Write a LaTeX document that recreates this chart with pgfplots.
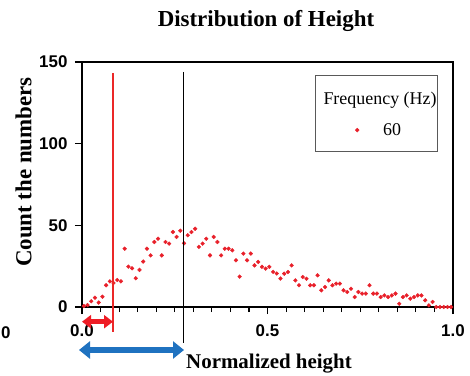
\documentclass[border=0pt]{standalone}
\usepackage{pgfplots}
\pgfplotsset{compat=1.18}
\usepackage{fontspec}
\setmainfont{Liberation Serif}
\newfontfamily\sansf{Liberation Sans}
\usetikzlibrary{arrows.meta}
\definecolor{dotred}{RGB}{232,32,42}
\definecolor{arrred}{RGB}{238,28,37}
\definecolor{linered}{RGB}{235,40,40}
\definecolor{arrblue}{RGB}{31,114,192}
\begin{document}
\begin{tikzpicture}
\path[use as bounding box] (-82bp,-69bp) rectangle (388bp,307bp);
\begin{axis}[
  scale only axis,
  width=371bp, height=245bp,
  xmin=0, xmax=1, ymin=0, ymax=150,
  axis line style={line width=1.3bp},
  xtick={0,0.5,1}, xticklabels={0.0,0.5,1.0},
  minor x tick num=9,
  ytick={0,50,100,150}, yticklabels={0,50,100,150},
  tick align=outside,
  xtick pos=bottom, ytick pos=left,
  major tick length=7bp, minor tick length=5bp,
  every tick/.style={line width=1.1bp, black},
  tick label style={font=\fontsize{17}{17}\selectfont\sansf\bfseries},
  xticklabel style={yshift=-7bp},
  yticklabel style={xshift=-4bp},
  clip=false,
  legend style={draw=none, fill=none, at={(0.801,0.722)}, anchor=center,
    column sep=22bp, font=\fontsize{18}{18}\selectfont},
]
\addplot[only marks, mark=*, mark size=1.9bp, color=dotred] coordinates {
(0.005,0.6)(0.015,1.2)(0.025,3.5)(0.035,5.7)(0.045,2.7)(0.055,6.3)(0.065,13.3)(0.075,15.7)(0.085,14.7)(0.095,16.5)
(0.105,15.7)(0.115,35.7)(0.125,24.7)(0.135,23.7)(0.145,17.6)(0.155,22.7)(0.165,27.8)(0.175,35.7)(0.185,31.6)(0.195,39.8)
(0.205,41.8)(0.215,31.6)(0.225,39.8)(0.235,38.8)(0.245,45.9)(0.255,42.9)(0.265,46.7)(0.275,39.0)(0.285,43.9)(0.295,45.9)
(0.305,47.9)(0.315,36.8)(0.325,38.8)(0.335,41.8)(0.345,31.6)(0.355,42.9)(0.365,39.8)(0.375,31.6)(0.385,35.7)(0.395,35.7)
(0.405,34.7)(0.415,28.6)(0.425,18.6)(0.435,32.7)(0.445,28.6)(0.455,32.7)(0.465,25.5)(0.475,27.6)(0.485,24.6)(0.495,23.5)
(0.505,24.6)(0.515,21.5)(0.525,20.5)(0.535,17.4)(0.545,20.4)(0.555,21.4)(0.565,25.5)(0.575,16.3)(0.585,13.3)(0.595,18.4)
(0.605,17.3)(0.615,13.3)(0.625,13.3)(0.635,19.4)(0.645,10.2)(0.655,12.2)(0.665,16.3)(0.675,13.3)(0.685,14.3)(0.695,14.3)
(0.705,10.2)(0.715,9.2)(0.725,11.2)(0.735,6.1)(0.745,9.2)(0.755,8.2)(0.765,8.2)(0.775,13.3)(0.785,8.2)(0.795,8.2)
(0.805,6.1)(0.815,7.1)(0.825,6.1)(0.835,7.1)(0.845,8.2)(0.855,2.0)(0.865,6.1)(0.875,7.1)(0.885,5.1)(0.895,6.1)
(0.905,7.1)(0.915,7.1)(0.925,4.1)(0.935,1.0)(0.945,3.1)(0.955,0)(0.965,0)(0.975,0)(0.985,0)(0.995,0)
};
\addlegendentry{60}
\end{axis}
% vertical marker lines
\draw[draw=linered, line width=1.3bp] (31bp,234bp) -- (31bp,-25bp);
\draw[black, line width=1bp] (101bp,235bp) -- (101bp,-36bp);
% arrows
\draw[arrred, line width=4.5bp, {Triangle[length=9bp,width=13bp]}-{Triangle[length=9bp,width=13bp]}] (0bp,-14.7bp) -- (31bp,-14.7bp);
\draw[arrblue, line width=6.5bp, {Triangle[length=11bp,width=17bp]}-{Triangle[length=11bp,width=17bp]}] (-3bp,-43bp) -- (102bp,-43bp);
% legend box and title
\draw[black!65, line width=0.8bp] (233bp,156bp) rectangle (355bp,232bp);
\node[anchor=west, font=\fontsize{18}{18}\selectfont] at (238bp,207bp) {Frequency (Hz)};
% title and axis labels
\node[anchor=base, font=\fontsize{23}{23}\selectfont\bfseries] at (184bp,280bp) {Distribution of Height};
\node[anchor=base, font=\fontsize{21}{21}\selectfont\bfseries] at (187bp,-61bp) {Normalized height};
\node[rotate=90, font=\fontsize{23}{23}\selectfont\bfseries] at (-58.5bp,135bp) {Count the numbers};
\node[font=\fontsize{17}{17}\selectfont\sansf\bfseries, anchor=west, inner sep=0pt] at (-81bp,-26bp) {0};
\end{tikzpicture}
\end{document}
